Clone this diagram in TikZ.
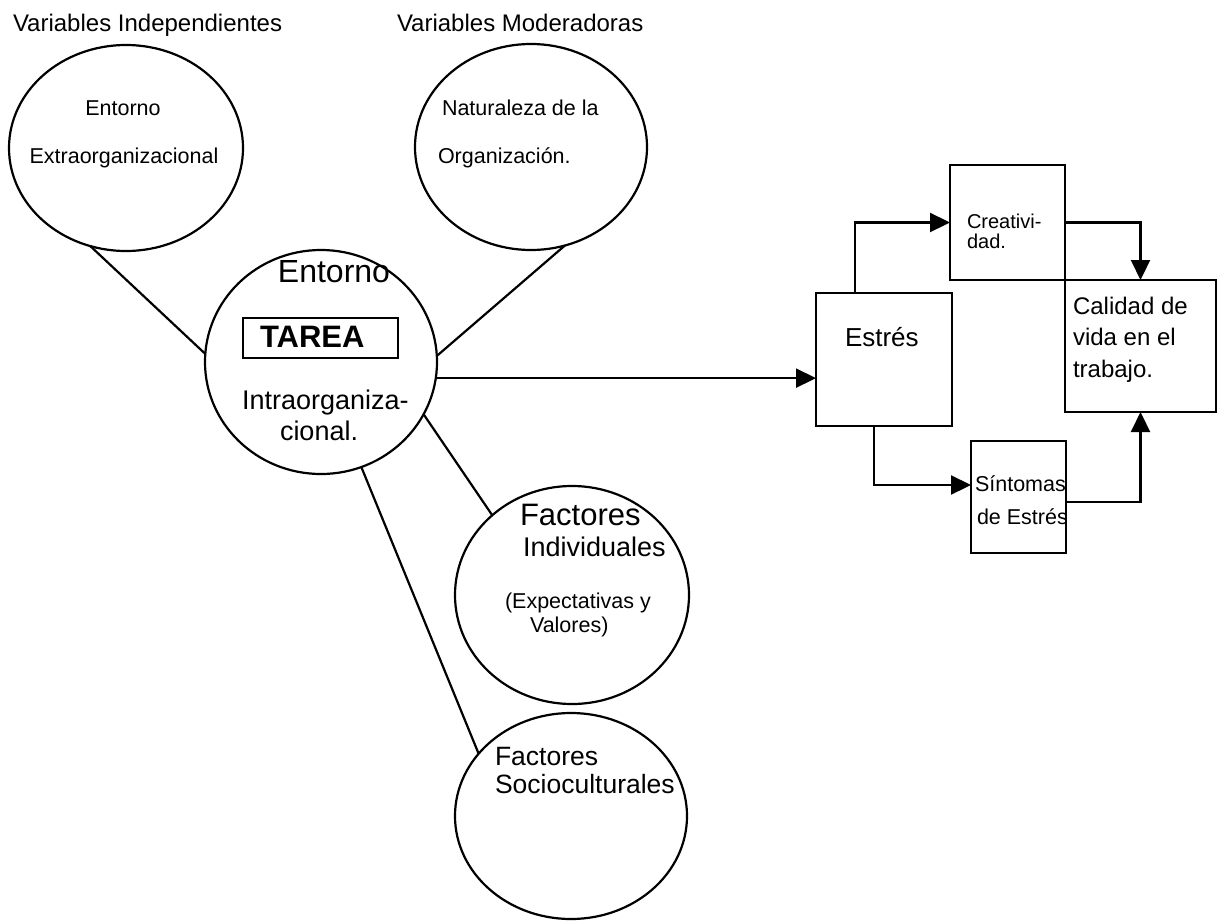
\documentclass[tikz,border=0pt]{standalone}
\usepackage{fontspec}
\setmainfont{Liberation Sans}
\usetikzlibrary{shapes.geometric,arrows.meta}
\newcommand{\txtsize}[1]{\fontsize{#1}{#1}\selectfont}

\begin{document}
\begin{tikzpicture}[x=1pt,y=-1pt,line width=2.2pt,
  ell/.style={draw,ellipse,inner sep=0pt,outer sep=0pt},
  box/.style={draw,rectangle,inner sep=0pt,outer sep=0pt},
  lbl/.style={inner sep=0pt,outer sep=0pt,anchor=base west},
  clbl/.style={inner sep=0pt,outer sep=0pt,anchor=base},
  arr/.style={-{Triangle[length=20pt,width=19pt]}}]

\fill[white] (0,0) rectangle (1218,921);
\useasboundingbox (0,0) rectangle (1218,921);

% column headings
\node[lbl,font=\txtsize{24}] (hInd) at (13,31) {Variables Independientes};
\node[lbl,font=\txtsize{24}] (hMod) at (397,31) {Variables Moderadoras};

% circles
\node[ell,minimum width=234pt,minimum height=206pt] (A) at (126,148) {};
\node[ell,minimum width=232pt,minimum height=206pt] (B) at (531,147) {};
\node[ell,minimum width=232pt,minimum height=224pt] (C) at (321,362) {};
\node[ell,minimum width=234pt,minimum height=218pt] (D) at (572,595) {};
\node[ell,minimum width=232pt,minimum height=206pt] (E) at (571,816) {};

% texts of the circles
\node[clbl,font=\txtsize{21.5}] (tA1) at (123,115) {Entorno};
\node[clbl,font=\txtsize{21.5}] (tA2) at (124,163) {Extraorganizacional};
\node[lbl,font=\txtsize{21.5}] (tB1) at (442,115) {Naturaleza de la};
\node[lbl,font=\txtsize{21.5}] (tB2) at (438,163) {Organización.};

\node[clbl,font=\txtsize{32}] (tC1) at (334,282) {Entorno};
\node[box,minimum width=155pt,minimum height=40pt] (tarea) at (320.5,338) {};
\node[lbl,font=\bfseries\txtsize{31}] (tC2) at (260,347) {TAREA};
\node[lbl,font=\txtsize{27}] (tC3) at (242,409) {Intraorganiza-};
\node[lbl,font=\txtsize{27}] (tC4) at (280,440) {cional.};

\node[lbl,font=\txtsize{31}] (tD1) at (520,525) {Factores};
\node[lbl,font=\txtsize{27}] (tD2) at (523,556) {Individuales};
\node[lbl,font=\txtsize{21.5}] (tD3) at (505,608) {(Expectativas y};
\node[lbl,font=\txtsize{21.5}] (tD4) at (530,632) {Valores)};

\node[lbl,font=\txtsize{26.5}] (tE1) at (495,765) {Factores};
\node[lbl,font=\txtsize{26.5}] (tE2) at (495,793) {Socioculturales};

% boxes on the right
\node[box,minimum width=136pt,minimum height=133pt] (estres) at (884,359.5) {};
\node[box,minimum width=115pt,minimum height=115pt] (creat) at (1007.5,222.5) {};
\node[box,minimum width=151pt,minimum height=132pt] (calidad) at (1140.5,346) {};
\node[box,minimum width=95pt,minimum height=112pt] (sint) at (1018.5,497) {};

\node[lbl,font=\txtsize{26}] (tEs) at (845,346) {Estrés};
\node[lbl,font=\txtsize{20}] (tCr1) at (967,228) {Creativi-};
\node[lbl,font=\txtsize{20}] (tCr2) at (967,248) {dad.};
\node[lbl,font=\txtsize{24}] (tCa1) at (1073,314) {Calidad de};
\node[lbl,font=\txtsize{24}] (tCa2) at (1073,345.5) {vida en el};
\node[lbl,font=\txtsize{24}] (tCa3) at (1073,377) {trabajo.};
\node[lbl,font=\txtsize{21.5}] (tSi1) at (975,491) {Síntomas};
\node[lbl,font=\txtsize{21.5}] (tSi2) at (977,524) {de Estrés};

% connectors between the circles
\draw (A.-110) -- (C.176.5);
\draw (B.-71) -- (C.3.5);
\draw (C.-27) -- (D.135);
\draw (C.-69) -- (E.146);

% flow arrows
\coordinate (up) at (855,0);
\coordinate (down) at (874,0);
\draw[arr] (C.-8.4) -- (C.-8.4 -| estres.west);
\draw[arr] (estres.north -| up) |- (creat.west);
\draw[arr] (creat.east) -| (calidad.north);
\draw[arr] (estres.south -| down) |- ([yshift=12pt]sint.west);
\draw[arr] ([yshift=-5pt]sint.east) -| (calidad.south);
\end{tikzpicture}
\end{document}
